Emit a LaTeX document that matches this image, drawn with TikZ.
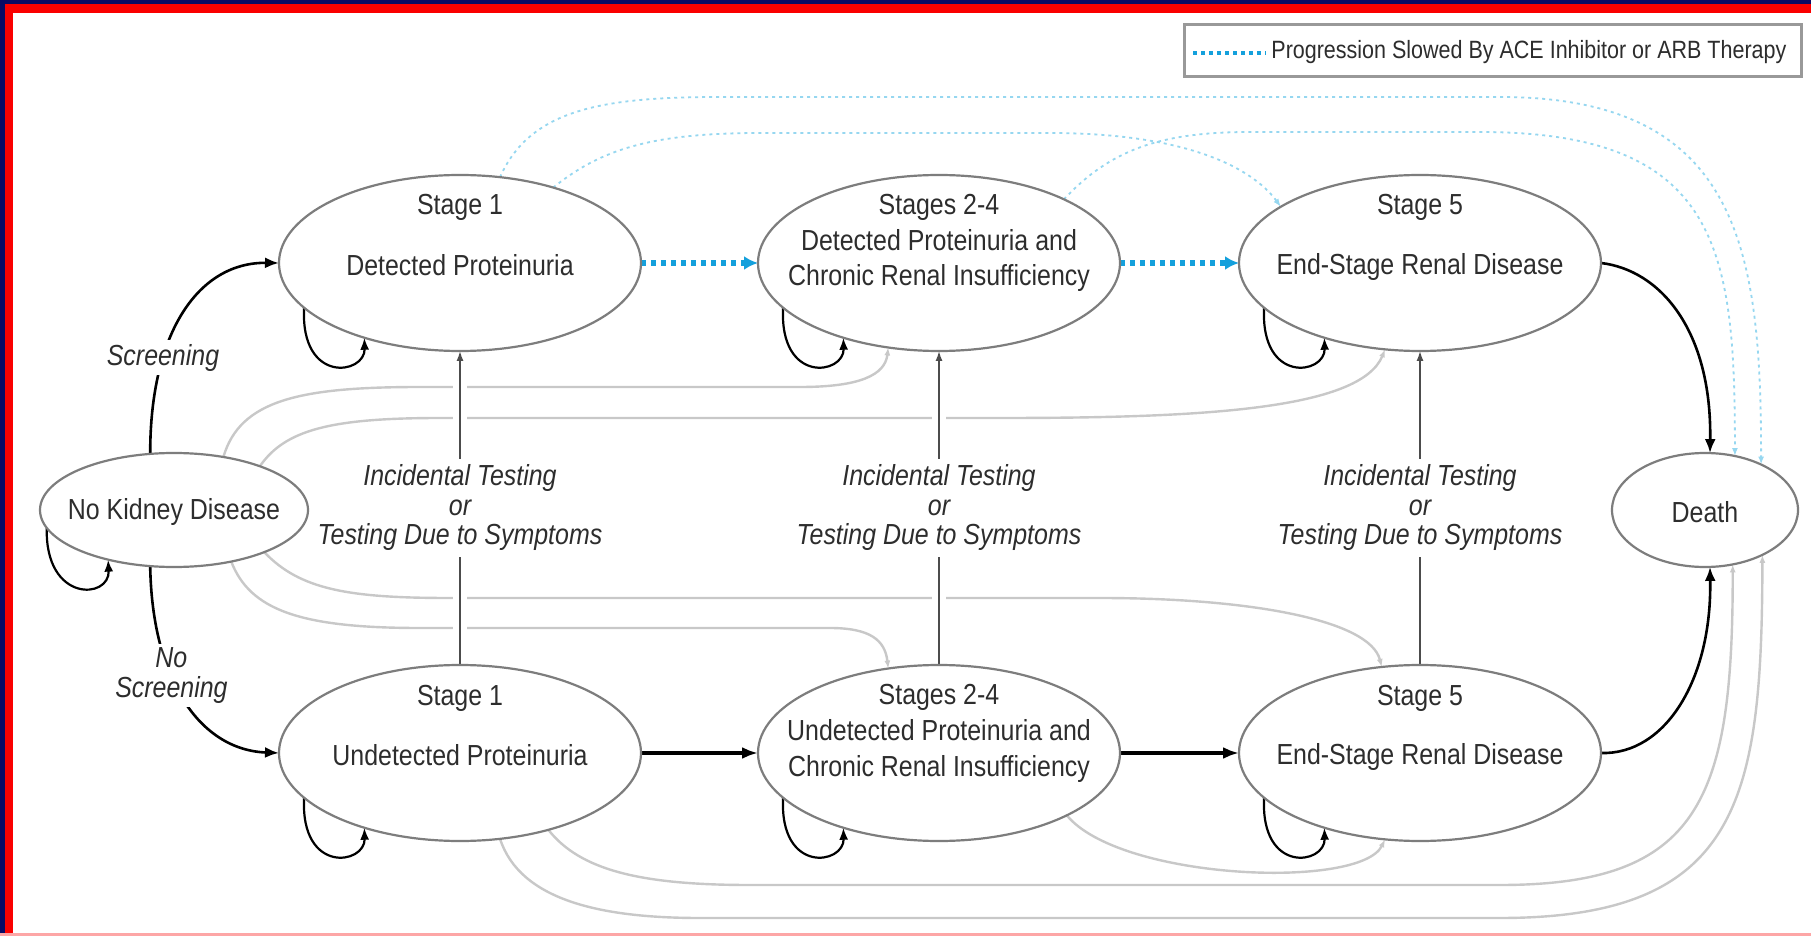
\documentclass[tikz,border=0pt]{standalone}
\usepackage{fontspec}
\setmainfont{Liberation Sans}[FakeStretch=0.86]
\usetikzlibrary{arrows.meta,shapes.geometric}
\pgfdeclarelayer{bottomlayer}
\pgfdeclarelayer{lineslayer}
\pgfsetlayers{bottomlayer,lineslayer,main}
\definecolor{navyb}{RGB}{10,10,100}
\definecolor{redb}{RGB}{250,0,0}
\definecolor{ringgray}{RGB}{125,125,125}
\definecolor{txtgray}{RGB}{45,45,45}
\definecolor{lgray}{RGB}{200,200,200}
\definecolor{dotblue}{RGB}{20,160,220}
\definecolor{lightdot}{RGB}{150,215,240}
\begin{document}
\begin{tikzpicture}[x=0.5pt,y=-0.5pt,
  st/.style={ellipse, draw=ringgray, line width=1.1pt, fill=white, inner sep=0pt, outer sep=0pt, minimum width=181pt, minimum height=88pt},
  txt/.style={text=txtgray, align=center, inner sep=0pt, font=\fontsize{14.5}{17.5}\selectfont},
  lbl/.style={text=txtgray, align=center, fill=white, inner sep=3pt, font=\itshape\fontsize{14.5}{14.75}\selectfont},
  blk/.style={draw=black, line width=1.3pt, -{Latex[length=7pt,width=5.5pt]}},
  loopar/.style={draw=black, line width=1.1pt, -{Latex[length=6pt,width=4.5pt]}},
  thk/.style={draw=black, line width=2pt, -{Latex[length=8pt,width=6pt]}},
  vert/.style={draw=black!70, line width=0.7pt, -{Latex[length=5pt,width=3.5pt]}, preaction={draw=white, line width=7pt, arrows=-}},
  gry/.style={draw=lgray, line width=1.2pt, -{Latex[length=4pt,width=3pt]}},
  dotthick/.style={draw=dotblue, line width=2.6pt, dash pattern=on 2.6pt off 2.4pt, -{Latex[length=7pt,width=7pt]}},
  lightdots/.style={draw=lightdot, line width=0.9pt, dash pattern=on 1.5pt off 2pt, -{Latex[length=4pt,width=3pt]}},
  legdot/.style={draw=dotblue, line width=1.8pt, dash pattern=on 2pt off 2pt}
]
\begin{pgfonlayer}{bottomlayer}
\fill[white] (0,0) rectangle (1811,936);
\fill[redb] (0,0) rectangle (1811,13);
\fill[redb] (0,0) rectangle (13,936);
\fill[navyb] (0,0) rectangle (1811,4);
\fill[navyb] (0,0) rectangle (5,936);
\fill[redb!35] (0,933) rectangle (1811,936);
\end{pgfonlayer}
\useasboundingbox (0,0) rectangle (1811,936);

% states
\node[st] (s1d) at (460,263) {};
\node[st] (s24d) at (939,263) {};
\node[st] (s5d) at (1420,263) {};
\node[st] (s1u) at (460,753) {};
\node[st] (s24u) at (939,753) {};
\node[st] (s5u) at (1420,753) {};
\node[st, minimum width=134pt, minimum height=57pt] (nkd) at (174,510) {};
\node[st, minimum width=93pt, minimum height=57pt] (death) at (1705,510) {};

% texts
\node[txt] (t1d) at (460,207) {Stage 1};
\node[txt] (t1db) at (460,265) {Detected Proteinuria};
\node[txt] (t24d) at (939,207) {Stages 2-4};
\node[txt] (t24db) at (939,261) {Detected Proteinuria and\\Chronic Renal Insufficiency};
\node[txt] (t5d) at (1420,207) {Stage 5};
\node[txt] (t5db) at (1420,267) {End-Stage Renal Disease};
\node[txt] (t1u) at (460,698) {Stage 1};
\node[txt] (t1ub) at (460,755) {Undetected Proteinuria};
\node[txt] (t24u) at (939,697) {Stages 2-4};
\node[txt] (t24ub) at (939,751) {Undetected Proteinuria and\\Chronic Renal Insufficiency};
\node[txt] (t5u) at (1420,698) {Stage 5};
\node[txt] (t5ub) at (1420,757) {End-Stage Renal Disease};
\node[txt] (tnkd) at (174,512) {No Kidney Disease};
\node[txt] (tdeath) at (1705,512) {Death};

% legend
\node[draw=black!40, line width=1.5pt, fill=white, minimum width=308.5pt, minimum height=26pt, inner sep=0pt] (leg) at (1492.5,51) {};
\coordinate (la) at (1193,53);
\coordinate (lb) at (1266,53);
\draw[legdot] (la) -- (lb);
\node[text=txtgray, inner sep=0pt, anchor=west, font=\fontsize{12.5}{14}\selectfont] (legt) at (1271,52) {Progression Slowed By ACE Inhibitor or ARB Therapy};

\begin{pgfonlayer}{lineslayer}
% gray connectors from no kidney disease
\draw[gry] (nkd.47) .. controls (240,400) and (300,387) .. (420,387) -- (800,387) .. controls (860,387) and (885,375) .. (s24d.239);
\draw[gry] (nkd.27) .. controls (285,430) and (330,418) .. (440,418) -- (1000,418) .. controls (1200,418) and (1360,410) .. (s5d.248);
\draw[gry] (nkd.335) .. controls (300,590) and (350,598) .. (450,598) -- (1100,598) .. controls (1250,598) and (1370,620) .. (s5u.114);
\draw[gry] (nkd.318) .. controls (250,610) and (300,628) .. (420,628) -- (830,628) .. controls (870,628) and (885,640) .. (s24u.121);
% gray connectors along the bottom
\draw[gry] (s1u.295) .. controls (520,900) and (600,918) .. (700,918) -- (1500,918) .. controls (1740,918) and (1762,800) .. (death.322);
\draw[gry] (s1u.319) .. controls (580,870) and (640,885) .. (750,885) -- (1500,885) .. controls (1700,885) and (1733,800) .. (death.297);
\draw[gry] (s24u.334) .. controls (1120,880) and (1360,890) .. (s5u.248);
% light dotted arcs
\draw[lightdots] (s1d.65) .. controls (530,110) and (600,97) .. (720,97) -- (1500,97) .. controls (1740,97) and (1761,250) .. (death.39);
\draw[lightdots] (s24d.27) .. controls (1110,150) and (1160,132) .. (1250,132) -- (1480,132) .. controls (1720,132) and (1735,250) .. (death.61);
\draw[lightdots] (s1d.39) .. controls (600,150) and (650,133) .. (760,133) -- (1050,133) .. controls (1180,133) and (1250,165) .. (s5d.158);
% vertical testing connectors
\draw[vert] (s1u.north) -- (s1d.south) node[lbl, midway] (i1) {Incidental Testing\\or\\Testing Due to Symptoms};
\draw[vert] (s24u.north) -- (s24d.south) node[lbl, midway] (i2) {Incidental Testing\\or\\Testing Due to Symptoms};
\draw[vert] (s5u.north) -- (s5d.south) node[lbl, midway] (i3) {Incidental Testing\\or\\Testing Due to Symptoms};
% screening
\draw[blk] (nkd.113) .. controls (150,330) and (200,262) .. (s1d.west) node[lbl, pos=0.3, inner sep=2pt] (lscr) {Screening};
\draw[blk] (nkd.247) .. controls (152,680) and (200,750) .. (s1u.west) node[lbl, pos=0.38, inner sep=2pt] (lnscr) {No\\Screening};
% self loops
\draw[loopar] (s1d.196) .. controls +(-4,77) and +(1,37) .. (s1d.218);
\draw[loopar] (s24d.196) .. controls +(-4,77) and +(1,37) .. (s24d.218);
\draw[loopar] (s5d.196) .. controls +(-4,77) and +(1,37) .. (s5d.218);
\draw[loopar] (s1u.196) .. controls +(-4,77) and +(1,37) .. (s1u.218);
\draw[loopar] (s24u.196) .. controls +(-4,77) and +(1,37) .. (s24u.218);
\draw[loopar] (s5u.196) .. controls +(-4,77) and +(1,37) .. (s5u.218);
\draw[loopar] (nkd.188) .. controls +(-2,75) and +(2,40) .. (nkd.217);
% progression
\draw[thk] (s1u.east) -- (s24u.west);
\draw[thk] (s24u.east) -- (s5u.west);
\draw[dotthick] (s1d.east) -- (s24d.west);
\draw[dotthick] (s24d.east) -- (s5d.west);
% to death
\draw[blk] (s5d.east) .. controls (1660,270) and (1712,330) .. (death.85);
\draw[blk] (s5u.east) .. controls (1665,755) and (1712,680) .. (death.275);
\end{pgfonlayer}
\end{tikzpicture}
\end{document}
